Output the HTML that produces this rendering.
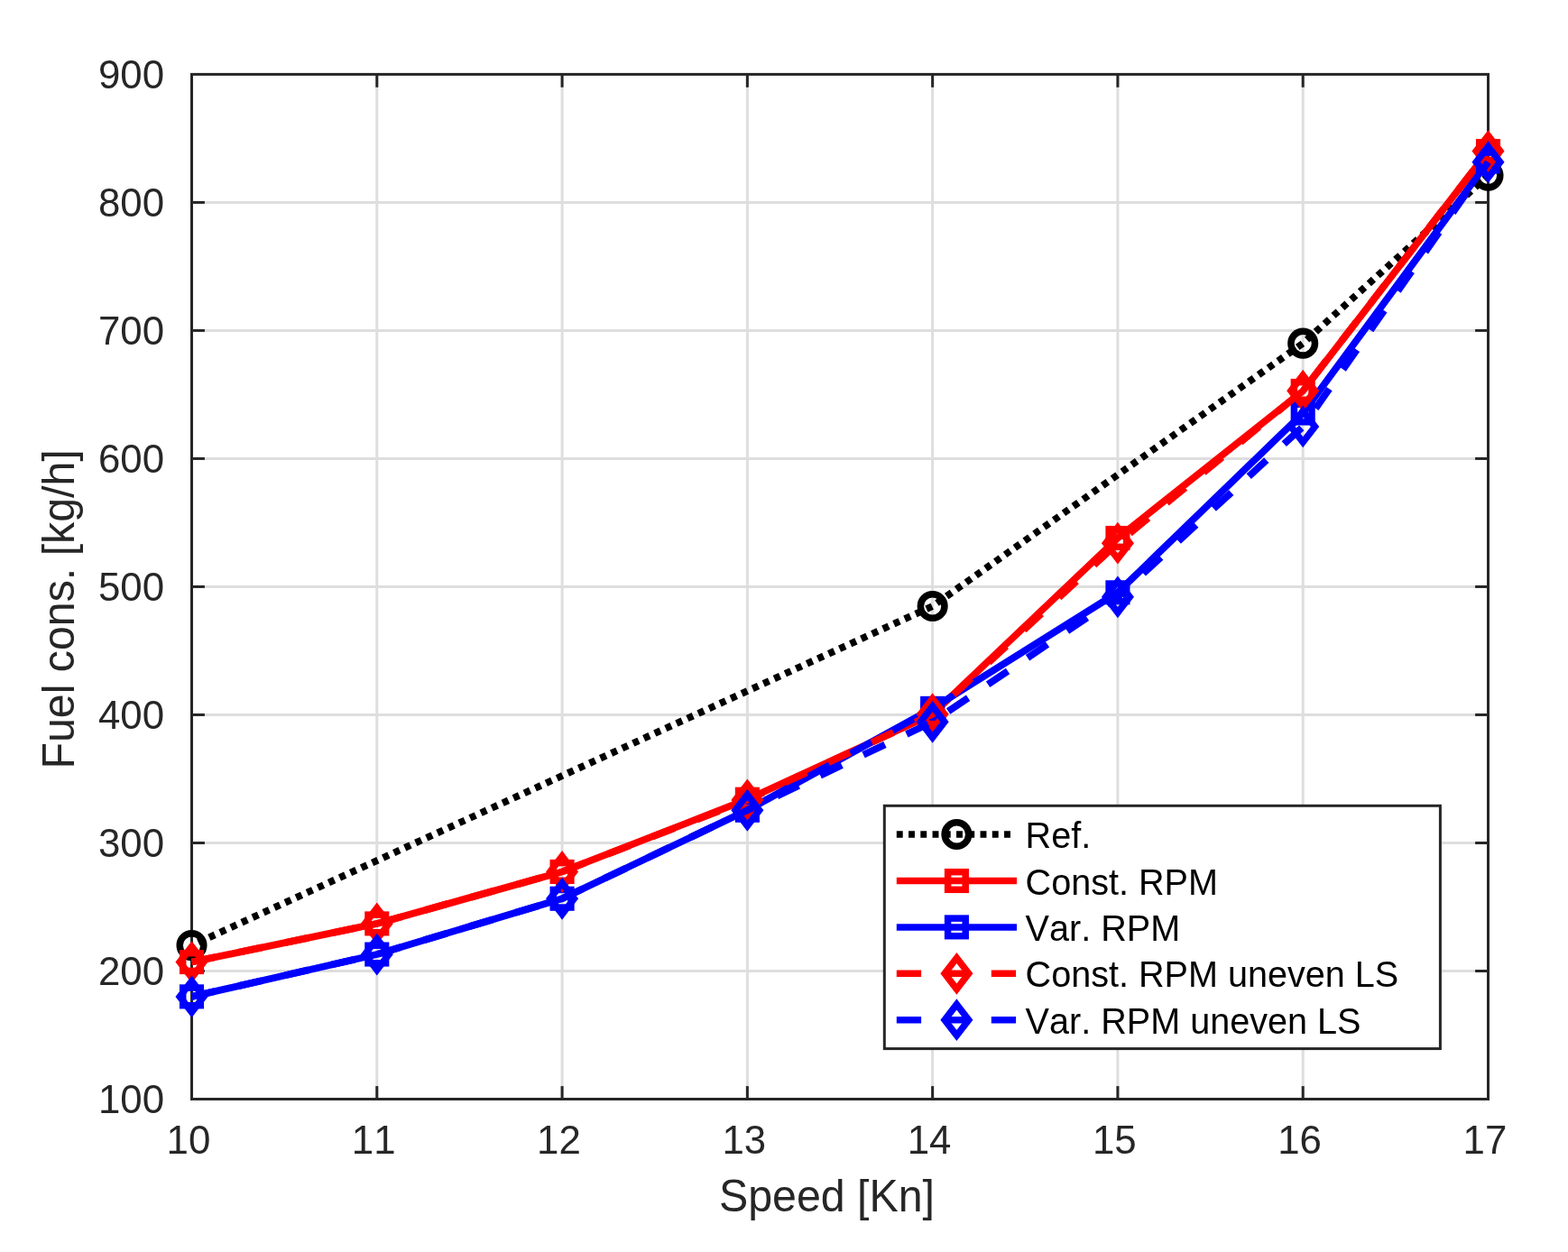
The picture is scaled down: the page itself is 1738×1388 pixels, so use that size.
<!DOCTYPE html>
<html lang="en"><head><meta charset="utf-8"><title>Fuel consumption vs speed</title>
<style>html,body{margin:0;padding:0;background:#fff;overflow:hidden}svg{display:block}text{font-family:"Liberation Sans",Arial,Helvetica,sans-serif;font-kerning:none;font-variant-ligatures:none;font-feature-settings:"kern" 0,"liga" 0}</style>
</head><body>
<svg width="1738" height="1388" viewBox="0 0 1738 1388" role="img" aria-label="Fuel consumption versus speed">
<rect x="0" y="0" width="1738" height="1388" fill="#fff"/>
<g stroke="#dedede" stroke-width="3" fill="none">
<line x1="417.79" y1="82.4" x2="417.79" y2="1218.5"/>
<line x1="623.07" y1="82.4" x2="623.07" y2="1218.5"/>
<line x1="828.36" y1="82.4" x2="828.36" y2="1218.5"/>
<line x1="1033.64" y1="82.4" x2="1033.64" y2="1218.5"/>
<line x1="1238.93" y1="82.4" x2="1238.93" y2="1218.5"/>
<line x1="1444.21" y1="82.4" x2="1444.21" y2="1218.5"/>
<line x1="212.5" y1="1076.49" x2="1649.5" y2="1076.49"/>
<line x1="212.5" y1="934.48" x2="1649.5" y2="934.48"/>
<line x1="212.5" y1="792.46" x2="1649.5" y2="792.46"/>
<line x1="212.5" y1="650.45" x2="1649.5" y2="650.45"/>
<line x1="212.5" y1="508.44" x2="1649.5" y2="508.44"/>
<line x1="212.5" y1="366.42" x2="1649.5" y2="366.42"/>
<line x1="212.5" y1="224.41" x2="1649.5" y2="224.41"/>
</g>
<g stroke="#262626" stroke-width="3" fill="none" stroke-linecap="butt">
<rect x="212.5" y="82.4" width="1437.0" height="1136.1"/>
<line x1="417.79" y1="1218.5" x2="417.79" y2="1204.1"/>
<line x1="417.79" y1="82.4" x2="417.79" y2="96.80000000000001"/>
<line x1="623.07" y1="1218.5" x2="623.07" y2="1204.1"/>
<line x1="623.07" y1="82.4" x2="623.07" y2="96.80000000000001"/>
<line x1="828.36" y1="1218.5" x2="828.36" y2="1204.1"/>
<line x1="828.36" y1="82.4" x2="828.36" y2="96.80000000000001"/>
<line x1="1033.64" y1="1218.5" x2="1033.64" y2="1204.1"/>
<line x1="1033.64" y1="82.4" x2="1033.64" y2="96.80000000000001"/>
<line x1="1238.93" y1="1218.5" x2="1238.93" y2="1204.1"/>
<line x1="1238.93" y1="82.4" x2="1238.93" y2="96.80000000000001"/>
<line x1="1444.21" y1="1218.5" x2="1444.21" y2="1204.1"/>
<line x1="1444.21" y1="82.4" x2="1444.21" y2="96.80000000000001"/>
<line x1="212.5" y1="1076.49" x2="226.9" y2="1076.49"/>
<line x1="1649.5" y1="1076.49" x2="1635.1" y2="1076.49"/>
<line x1="212.5" y1="934.48" x2="226.9" y2="934.48"/>
<line x1="1649.5" y1="934.48" x2="1635.1" y2="934.48"/>
<line x1="212.5" y1="792.46" x2="226.9" y2="792.46"/>
<line x1="1649.5" y1="792.46" x2="1635.1" y2="792.46"/>
<line x1="212.5" y1="650.45" x2="226.9" y2="650.45"/>
<line x1="1649.5" y1="650.45" x2="1635.1" y2="650.45"/>
<line x1="212.5" y1="508.44" x2="226.9" y2="508.44"/>
<line x1="1649.5" y1="508.44" x2="1635.1" y2="508.44"/>
<line x1="212.5" y1="366.42" x2="226.9" y2="366.42"/>
<line x1="1649.5" y1="366.42" x2="1635.1" y2="366.42"/>
<line x1="212.5" y1="224.41" x2="226.9" y2="224.41"/>
<line x1="1649.5" y1="224.41" x2="1635.1" y2="224.41"/>
</g>
<g>
<polyline points="212.50,1048.09 1033.64,672.04 1444.21,380.63 1649.50,194.59" fill="none" stroke="#000" stroke-width="7.8" stroke-linejoin="round" stroke-dasharray="6.9 6.35" stroke-dashoffset="5.19"/>
<circle cx="212.50" cy="1048.09" r="13.3" fill="none" stroke="#000" stroke-width="7.5"/>
<circle cx="1033.64" cy="672.04" r="13.3" fill="none" stroke="#000" stroke-width="7.5"/>
<circle cx="1444.21" cy="380.63" r="13.3" fill="none" stroke="#000" stroke-width="7.5"/>
<circle cx="1649.50" cy="194.59" r="13.3" fill="none" stroke="#000" stroke-width="7.5"/>
<polyline points="212.50,1066.55 417.79,1023.94 623.07,966.43 828.36,886.19 1033.64,791.75 1238.93,596.49 1444.21,433.45 1649.50,167.61" fill="none" stroke="#f00" stroke-width="7.8" stroke-linejoin="round"/>
<rect x="202.70" y="1056.75" width="19.6" height="19.6" fill="none" stroke="#f00" stroke-width="7.5"/>
<rect x="407.99" y="1014.14" width="19.6" height="19.6" fill="none" stroke="#f00" stroke-width="7.5"/>
<rect x="613.27" y="956.63" width="19.6" height="19.6" fill="none" stroke="#f00" stroke-width="7.5"/>
<rect x="818.56" y="876.39" width="19.6" height="19.6" fill="none" stroke="#f00" stroke-width="7.5"/>
<rect x="1023.84" y="781.95" width="19.6" height="19.6" fill="none" stroke="#f00" stroke-width="7.5"/>
<rect x="1229.13" y="586.69" width="19.6" height="19.6" fill="none" stroke="#f00" stroke-width="7.5"/>
<rect x="1434.41" y="423.65" width="19.6" height="19.6" fill="none" stroke="#f00" stroke-width="7.5"/>
<rect x="1639.70" y="157.81" width="19.6" height="19.6" fill="none" stroke="#f00" stroke-width="7.5"/>
<polyline points="212.50,1104.89 417.79,1058.03 623.07,996.25 828.36,898.26 1033.64,785.36 1238.93,656.84 1444.21,458.02 1649.50,178.97" fill="none" stroke="#00f" stroke-width="7.8" stroke-linejoin="round"/>
<rect x="202.70" y="1095.09" width="19.6" height="19.6" fill="none" stroke="#00f" stroke-width="7.5"/>
<rect x="407.99" y="1048.23" width="19.6" height="19.6" fill="none" stroke="#00f" stroke-width="7.5"/>
<rect x="613.27" y="986.45" width="19.6" height="19.6" fill="none" stroke="#00f" stroke-width="7.5"/>
<rect x="818.56" y="888.46" width="19.6" height="19.6" fill="none" stroke="#00f" stroke-width="7.5"/>
<rect x="1023.84" y="775.56" width="19.6" height="19.6" fill="none" stroke="#00f" stroke-width="7.5"/>
<rect x="1229.13" y="647.04" width="19.6" height="19.6" fill="none" stroke="#00f" stroke-width="7.5"/>
<rect x="1434.41" y="448.22" width="19.6" height="19.6" fill="none" stroke="#00f" stroke-width="7.5"/>
<rect x="1639.70" y="169.17" width="19.6" height="19.6" fill="none" stroke="#00f" stroke-width="7.5"/>
<polyline points="212.50,1066.55 417.79,1023.94 623.07,966.43 828.36,886.90 1033.64,791.75 1238.93,602.17 1444.21,433.17 1649.50,167.61" fill="none" stroke="#f00" stroke-width="7.8" stroke-linejoin="round" stroke-dasharray="26.5 26.5" stroke-dashoffset="0"/>
<path d="M212.50 1049.30L225.80 1066.55L212.50 1083.80L199.20 1066.55Z" fill="none" stroke="#f00" stroke-width="7.5" stroke-miterlimit="10"/>
<path d="M417.79 1006.69L431.09 1023.94L417.79 1041.19L404.49 1023.94Z" fill="none" stroke="#f00" stroke-width="7.5" stroke-miterlimit="10"/>
<path d="M623.07 949.18L636.37 966.43L623.07 983.68L609.77 966.43Z" fill="none" stroke="#f00" stroke-width="7.5" stroke-miterlimit="10"/>
<path d="M828.36 869.65L841.66 886.90L828.36 904.15L815.06 886.90Z" fill="none" stroke="#f00" stroke-width="7.5" stroke-miterlimit="10"/>
<path d="M1033.64 774.50L1046.94 791.75L1033.64 809.00L1020.34 791.75Z" fill="none" stroke="#f00" stroke-width="7.5" stroke-miterlimit="10"/>
<path d="M1238.93 584.92L1252.23 602.17L1238.93 619.42L1225.63 602.17Z" fill="none" stroke="#f00" stroke-width="7.5" stroke-miterlimit="10"/>
<path d="M1444.21 415.92L1457.51 433.17L1444.21 450.42L1430.91 433.17Z" fill="none" stroke="#f00" stroke-width="7.5" stroke-miterlimit="10"/>
<path d="M1649.50 150.36L1662.80 167.61L1649.50 184.86L1636.20 167.61Z" fill="none" stroke="#f00" stroke-width="7.5" stroke-miterlimit="10"/>
<polyline points="212.50,1104.89 417.79,1058.03 623.07,996.25 828.36,898.26 1033.64,800.27 1238.93,661.81 1444.21,472.93 1649.50,179.68" fill="none" stroke="#00f" stroke-width="7.8" stroke-linejoin="round" stroke-dasharray="26.5 26.5" stroke-dashoffset="0"/>
<path d="M212.50 1087.64L225.80 1104.89L212.50 1122.14L199.20 1104.89Z" fill="none" stroke="#00f" stroke-width="7.5" stroke-miterlimit="10"/>
<path d="M417.79 1040.78L431.09 1058.03L417.79 1075.28L404.49 1058.03Z" fill="none" stroke="#00f" stroke-width="7.5" stroke-miterlimit="10"/>
<path d="M623.07 979.00L636.37 996.25L623.07 1013.50L609.77 996.25Z" fill="none" stroke="#00f" stroke-width="7.5" stroke-miterlimit="10"/>
<path d="M828.36 881.01L841.66 898.26L828.36 915.51L815.06 898.26Z" fill="none" stroke="#00f" stroke-width="7.5" stroke-miterlimit="10"/>
<path d="M1033.64 783.02L1046.94 800.27L1033.64 817.52L1020.34 800.27Z" fill="none" stroke="#00f" stroke-width="7.5" stroke-miterlimit="10"/>
<path d="M1238.93 644.56L1252.23 661.81L1238.93 679.06L1225.63 661.81Z" fill="none" stroke="#00f" stroke-width="7.5" stroke-miterlimit="10"/>
<path d="M1444.21 455.68L1457.51 472.93L1444.21 490.18L1430.91 472.93Z" fill="none" stroke="#00f" stroke-width="7.5" stroke-miterlimit="10"/>
<path d="M1649.50 162.43L1662.80 179.68L1649.50 196.93L1636.20 179.68Z" fill="none" stroke="#00f" stroke-width="7.5" stroke-miterlimit="10"/>
</g>
<rect x="980.3" y="893.3" width="616.10" height="269.30" fill="#fff" stroke="#262626" stroke-width="3"/>
<line x1="993.8" y1="925.0" x2="1126.0" y2="925.0" stroke="#000" stroke-width="7.5" stroke-dasharray="6.9 6.35"/>
<circle cx="1060.40" cy="925.00" r="13.3" fill="none" stroke="#000" stroke-width="7.5"/>
<line x1="993.8" y1="976.5" x2="1127.0" y2="976.5" stroke="#f00" stroke-width="7.5"/>
<rect x="1050.60" y="966.70" width="19.6" height="19.6" fill="none" stroke="#f00" stroke-width="7.5"/>
<line x1="993.8" y1="1027.9" x2="1127.0" y2="1027.9" stroke="#00f" stroke-width="7.5"/>
<rect x="1050.60" y="1018.10" width="19.6" height="19.6" fill="none" stroke="#00f" stroke-width="7.5"/>
<line x1="993.8" y1="1079.3" x2="1127.0" y2="1079.3" stroke="#f00" stroke-width="7.5" stroke-dasharray="27.3 25.2"/>
<path d="M1060.40 1062.05L1073.70 1079.30L1060.40 1096.55L1047.10 1079.30Z" fill="none" stroke="#f00" stroke-width="7.5" stroke-miterlimit="10"/>
<line x1="993.8" y1="1130.7" x2="1127.0" y2="1130.7" stroke="#00f" stroke-width="7.5" stroke-dasharray="27.3 25.2"/>
<path d="M1060.40 1113.45L1073.70 1130.70L1060.40 1147.95L1047.10 1130.70Z" fill="none" stroke="#00f" stroke-width="7.5" stroke-miterlimit="10"/>
<g font-size="39.6" fill="#000">
<text transform="translate(1136.60 940.00) scale(1 1.02)">Ref.</text>
<text transform="translate(1136.60 991.50) scale(1 1.02)">Const. RPM</text>
<text transform="translate(1136.60 1042.90) scale(1 1.02)">Var. RPM</text>
<text transform="translate(1136.60 1094.30) scale(1 1.02)">Const. RPM uneven LS</text>
<text transform="translate(1136.60 1145.70) scale(1 1.02)">Var. RPM uneven LS</text>
</g>
<g font-size="43.8" fill="#262626">
<text transform="translate(182.00 1234.10) scale(1 1.02)" text-anchor="end">100</text>
<text transform="translate(182.00 1092.09) scale(1 1.02)" text-anchor="end">200</text>
<text transform="translate(182.00 950.08) scale(1 1.02)" text-anchor="end">300</text>
<text transform="translate(182.00 808.06) scale(1 1.02)" text-anchor="end">400</text>
<text transform="translate(182.00 666.05) scale(1 1.02)" text-anchor="end">500</text>
<text transform="translate(182.00 524.04) scale(1 1.02)" text-anchor="end">600</text>
<text transform="translate(182.00 382.02) scale(1 1.02)" text-anchor="end">700</text>
<text transform="translate(182.00 240.01) scale(1 1.02)" text-anchor="end">800</text>
<text transform="translate(182.00 98.00) scale(1 1.02)" text-anchor="end">900</text>
<text transform="translate(208.90 1279.30) scale(1 1.02)" text-anchor="middle">10</text>
<text transform="translate(414.19 1279.30) scale(1 1.02)" text-anchor="middle">11</text>
<text transform="translate(619.47 1279.30) scale(1 1.02)" text-anchor="middle">12</text>
<text transform="translate(824.76 1279.30) scale(1 1.02)" text-anchor="middle">13</text>
<text transform="translate(1030.04 1279.30) scale(1 1.02)" text-anchor="middle">14</text>
<text transform="translate(1235.33 1279.30) scale(1 1.02)" text-anchor="middle">15</text>
<text transform="translate(1440.61 1279.30) scale(1 1.02)" text-anchor="middle">16</text>
<text transform="translate(1645.90 1279.30) scale(1 1.02)" text-anchor="middle">17</text>
</g>
<g font-size="48.3" fill="#262626">
<text transform="translate(797.00 1342.80) scale(1 1.02)">Speed [Kn]</text>
<text transform="translate(81.90 852.50) rotate(-90) scale(1 1.02)">Fuel cons. [kg/h]</text>
</g>
</svg>
</body></html>
